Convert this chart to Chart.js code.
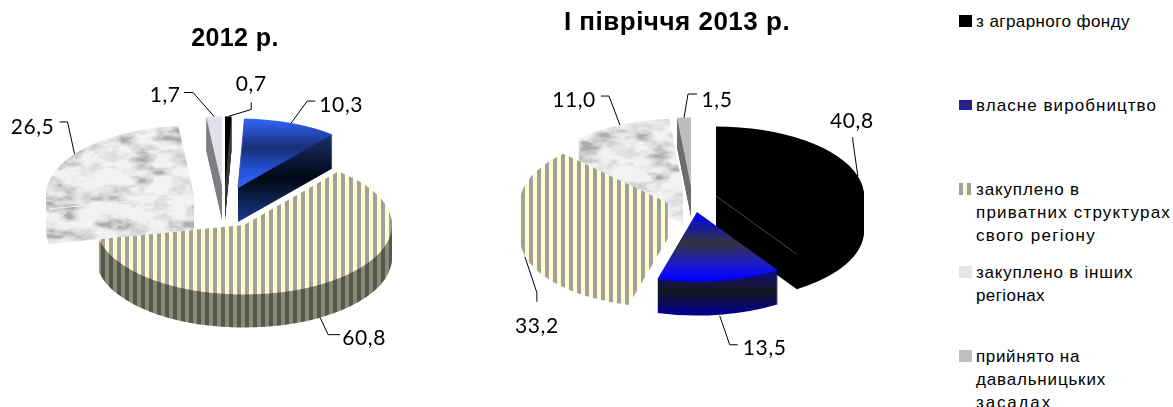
<!DOCTYPE html>
<html><head><meta charset="utf-8">
<script src="https://cdn.jsdelivr.net/npm/chart.js@4"></script>
<style>
html,body{margin:0;padding:0;background:#fff;overflow:hidden}
#wrap{position:relative;width:1173px;height:407px}
canvas{position:absolute;top:0}
#legend{position:absolute;left:0;top:0;font:17px "Liberation Sans",Arial,sans-serif;color:#000}
.li{position:absolute;left:976px;white-space:nowrap;line-height:23px}
.sw{position:absolute;left:959px;width:13px;height:12px}
</style></head><body>
<div id="wrap">
<div style="position:absolute;left:0;top:0;width:470px;height:407px"><canvas id="c1"></canvas></div>
<div style="position:absolute;left:470px;top:0;width:414px;height:407px"><canvas id="c2"></canvas></div>
<div id="legend"></div>
</div>
<script>
const categories = [
  ["з аграрного фонду"],
  ["власне виробництво"],
  ["закуплено в", "приватних структурах", "свого регіону"],
  ["закуплено в  інших", "регіонах"],
  ["прийнято на", "давальницьких", "засадах"]
];
const values2012 = [0.7, 10.3, 60.8, 26.5, 1.7];
const values2013 = [40.8, 13.5, 33.2, 11.0, 1.5];
const title2012 = "2012 р.";
const title2013 = "І півріччя 2013 р.";

function stripes(a, b, w) {
  const c = document.createElement('canvas'); c.width = w * 2; c.height = 2;
  const x = c.getContext('2d');
  x.fillStyle = a; x.fillRect(0, 0, w, 2);
  x.fillStyle = b; x.fillRect(w, 0, w, 2);
  return c;
}
// tiling value-noise texture for the marble fill (a fixed hash, purely decorative)
function marble(lo, hi) {
  const S = 256, c = document.createElement('canvas'); c.width = S; c.height = S;
  const x = c.getContext('2d'), img = x.createImageData(S, S);
  const hash = (i, j, p) => {
    const h = Math.sin(((i % p + p) % p) * 127.1 + ((j % p + p) % p) * 311.7 + p * 74.7) * 43758.5453;
    return h - Math.floor(h);
  };
  const smooth = t => t * t * (3 - 2 * t);
  const noise = (u, v, p) => {
    const i = Math.floor(u), j = Math.floor(v), a = smooth(u - i), b = smooth(v - j);
    const top = hash(i, j, p) * (1 - a) + hash(i + 1, j, p) * a;
    const bot = hash(i, j + 1, p) * (1 - a) + hash(i + 1, j + 1, p) * a;
    return top * (1 - b) + bot * b;
  };
  const fbm = (u, v) => {
    let s = 0, amp = .5, p = 14;
    for (let n = 0; n < 4; n++) { s += amp * noise(u * p, v * p, p); amp *= .5; p *= 2; }
    return s / .9375;
  };
  for (let j = 0; j < S; j++) for (let i = 0; i < S; i++) {
    const u = i / S, v = j / S;
    let n = fbm(u, v);
    n = Math.min(1, Math.max(0, (n - .26) / .34));
    n = Math.pow(n, .6);
    const g = lo + (hi - lo) * n, o = (j * S + i) * 4;
    img.data[o] = g; img.data[o + 1] = g + 2; img.data[o + 2] = g + 3; img.data[o + 3] = 255;
  }
  x.putImageData(img, 0, 0);
  return c;
}
const stripeTop = stripes('#ffffcc', '#a0a0a0', 4);
const stripeSide = stripes('#8a8a6c', '#555555', 4);
const marbleTex = marble(172, 240);

function grad(ctx, y0, stops, y1) {
  const g = ctx.createLinearGradient(0, y0, 0, y1);
  stops.forEach(s => g.addColorStop(s[0], s[1]));
  return g;
}
const BLUE_A = [[0,'#3366ff'],[.42,'#1b2f78'],[.75,'#2452d8'],[1,'#3366ff']];
const BLUE_AS = [[0,'#1a2f70'],[.5,'#000814'],[1,'#1b3a8c']];
const BLUE_B = [[0,'#0000ff'],[.46,'#33333f'],[.8,'#1a1ad0'],[1,'#0000ff']];
const BLUE_BS = [[0,'#0a0a86'],[.5,'#18181f'],[1,'#00008b']];

const pie3d = {
  id: 'pie3d',
  beforeDatasetDraw(chart, args, o) {
    const ctx = chart.ctx, arcs = args.meta.data, k = o.tilt;
    const paint = (arc, st, tx, ty, s) => {
      ctx.save();
      ctx.translate(tx, ty); ctx.scale(s, k * s); ctx.translate(-arc.x, -arc.y);
      const saved = arc.options;
      arc.options = Object.create(saved, {backgroundColor: {value: st}});
      arc.draw(ctx);
      arc.options = saved;
      ctx.restore();
    };
    o.order.forEach(i => {
      const arc = arcs[i], f = o.faces[i];
      const tx = o.cx + o.shift[i][0], ty = o.cy + o.shift[i][1], s = o.grow[i];
      const style = (spec, d) => {
        if (typeof spec === 'string') return spec;
        if (spec.tex) {
          const p = ctx.createPattern(spec.tex, 'repeat');
          p.setTransform(new DOMMatrix().translate(0, -d / (k * s)));
          return p;
        }
        const toLocal = y => arc.y + (y - d) / (k * s);
        return grad(ctx, toLocal(spec.y0), spec.stops, toLocal(spec.y1));
      };
      for (let d = o.depth[i]; d >= 1; d--) paint(arc, style(f.side, d), tx, ty + d, s);
      paint(arc, style(f.top, 0), tx, ty, s);
      if (f.edge) {
        const a = arc[f.edge[0]];
        const r = arc.outerRadius * s;
        ctx.save();
        ctx.strokeStyle = f.edge[1]; ctx.lineWidth = 1;
        ctx.beginPath(); ctx.moveTo(tx, ty);
        ctx.lineTo(tx + r * Math.cos(a), ty + r * k * Math.sin(a));
        ctx.stroke(); ctx.restore();
      }
    });
    return false;
  },
  afterDraw(chart, args, o) {
    const ctx = chart.ctx, arcs = chart.getDatasetMeta(0).data, vals = chart.data.datasets[0].data;
    ctx.save();
    arcs.forEach((arc, i) => {
      const a = (arc.startAngle + arc.endAngle) / 2, r = arc.outerRadius * o.grow[i];
      const L = o.leaders[i];
      const px = o.cx + o.shift[i][0] + r * Math.cos(a);
      const py = o.cy + o.shift[i][1] + r * o.tilt * Math.sin(a);
      ctx.strokeStyle = '#000'; ctx.lineWidth = 1;
      ctx.beginPath();
      ctx.moveTo(px, py + L[0]);
      ctx.lineTo(px + L[1], py + L[2]);
      ctx.lineTo(px + L[3], py + L[4]);
      ctx.stroke();
      ctx.fillStyle = '#000';
      ctx.font = '21px Lato, "Open Sans", sans-serif';
      ctx.letterSpacing = '0.6px';
      ctx.textAlign = 'center'; ctx.textBaseline = 'middle';
      ctx.fillText(vals[i].toFixed(1).replace('.', ','), px + L[5], py + L[6]);
    });
    ctx.restore();
  },
  beforeDraw(chart, args, o) { chart.ctx.letterSpacing = o.titleSpacing; },
  beforeDatasetsDraw(chart) { chart.ctx.letterSpacing = '0px'; }
};

function makeChart(id, values, title, titleSize, titleTop, opts) {
  const el = document.getElementById(id);
  return new Chart(el, {
    type: 'pie',
    plugins: [pie3d],
    data: {
      labels: categories,
      datasets: [{data: values, radius: 148, borderWidth: 0, backgroundColor: ['#000','#0000cc','#ffffcc','#e0e4e8','#bfbfbf']}]
    },
    options: {
      responsive: true, maintainAspectRatio: false, animation: false, events: [],
      plugins: {
        legend: {display: false}, tooltip: {enabled: false},
        title: {display: true, text: title, color: '#000', padding: {top: titleTop, bottom: 0},
                font: {family: '"Liberation Sans", Arial, sans-serif', weight: 'bold', size: titleSize, lineHeight: 1.2}},
        pie3d: opts
      }
    }
  });
}

makeChart('c1', values2012, title2012, 25, 24, {
  cx: 240, cy: 222, tilt: .47, titleSpacing: '0.4px',
  order: [2, 3, 4, 0, 1],
  shift: [[-15,-36],[-2,-34],[4,3],[-46,-27],[-18,-36]],
  depth: [34, 34, 33, 35, 34],
  grow: [1, 1, 1, 1, 1],
  faces: [
    {top: '#000000', side: '#3a3a3a'},
    {top: {y0: -70, y1: 0, stops: BLUE_A}, side: {y0: -53, y1: 34, stops: BLUE_AS}, edge: ['startAngle', '#4a5fb8']},
    {top: {tex: stripeTop}, side: {tex: stripeSide}},
    {top: {tex: marbleTex}, side: {tex: marbleTex}, edge: ['startAngle', '#eef0f2']},
    {top: '#e3e0ec', side: '#7f7f85'}
  ],
  leaders: [
    [0, 23, -7, 23, -14, 23, -32],
    [0, 16, -22, 24, -22, 50, -18],
    [33, 8, 50, 20, 50, 44, 54],
    [0, -7, -32, -15, -32, -42, -27],
    [0, -21, -24, -30, -24, -49, -21]
  ]
});

makeChart('c2', values2013, title2013, 26, 7, {
  cx: 245, cy: 222, tilt: .47, titleSpacing: '0.5px',
  order: [3, 4, 2, 0, 1],
  shift: [[1,-26],[-18,-10],[-47,-19],[-32,-34],[-24,-35]],
  depth: [35, 34, 35, 36, 30],
  grow: [1, 1, 1, 1, 1],
  faces: [
    {top: '#000000', side: '#000000', edge: ['endAngle', '#4a4a4a']},
    {top: {y0: 0, y1: 67, stops: BLUE_B}, side: {y0: 58, y1: 101, stops: BLUE_BS}},
    {top: {tex: stripeTop}, side: {tex: stripeTop}},
    {top: {tex: marbleTex}, side: {tex: marbleTex}},
    {top: '#bdbdbd', side: '#6e6e6e'}
  ],
  leaders: [
    [0, -5, -35, -5, -39, -6, -55],
    [35, 10, 64, 18, 64, 45, 67],
    [36, 12, 72, 12, 81, 12, 106],
    [0, -11, -29, -19, -29, -46, -25],
    [0, 4, -23.5, 13, -23.5, 33, -17.5]
  ]
});

// HTML legend built from the chart's categories
const legendTops = [21, 105, 189, 272, 356];
const legendWidths = [[154],[181],[104,195,120],[158,69],[104,130,76]];
const swatchCss = [
  'background:#000',
  'background:linear-gradient(#1a1ad0 0,#2b2b55 50%,#1a1ad0 100%);height:10px;margin-top:1px',
  'background:repeating-linear-gradient(90deg,#a0a0a0 0 4px,#ffffcc 4px 8px);width:12px',
  'background:#e2e6ea',
  'background:#bfbfbf'
];
const lg = document.getElementById('legend');
categories.forEach((lines, i) => {
  const sw = document.createElement('div');
  sw.className = 'sw'; sw.style.cssText = swatchCss[i]; sw.style.top = (legendTops[i] - 6) + 'px';
  lg.appendChild(sw);
  lines.forEach((t, j) => {
    const d = document.createElement('div');
    d.className = 'li'; d.textContent = t;
    d.style.top = (legendTops[i] - 11.5 + j * 23) + 'px';
    lg.appendChild(d);
    const extra = legendWidths[i][j] - d.getBoundingClientRect().width;
    d.style.letterSpacing = (extra / t.length).toFixed(2) + 'px';
  });
});
</script>
</body></html>
